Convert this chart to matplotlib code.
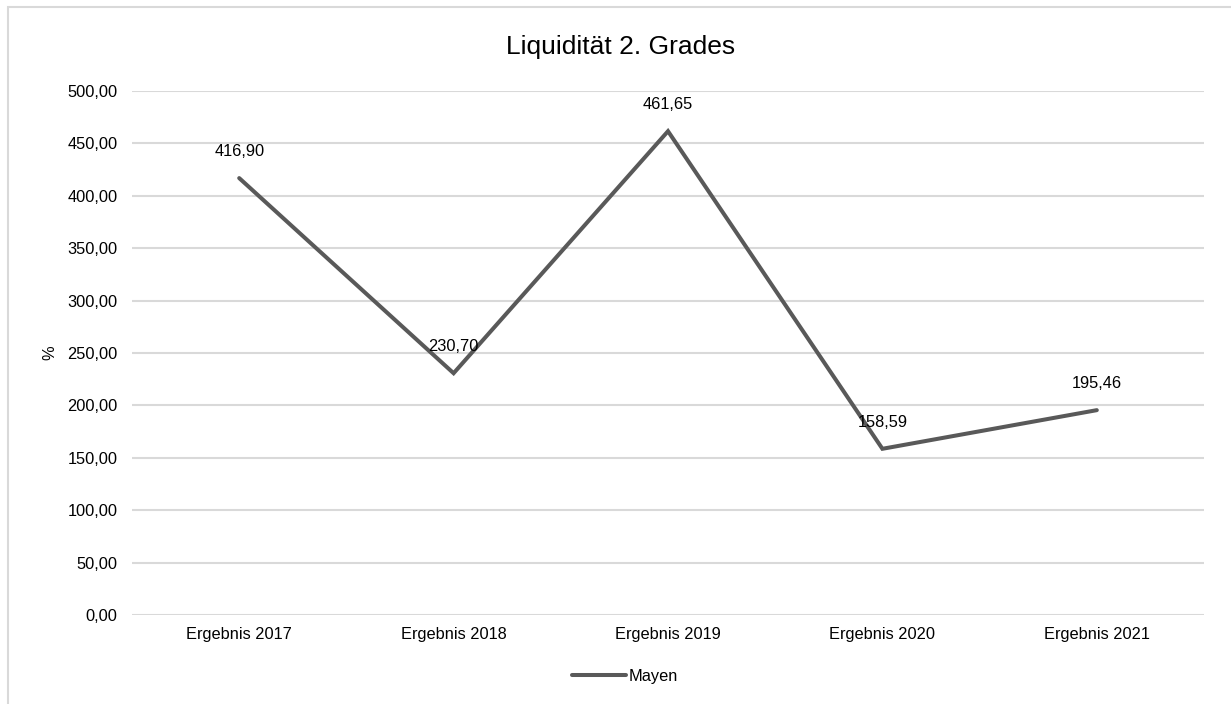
import matplotlib
matplotlib.use("Agg")
import matplotlib.pyplot as plt
from matplotlib.patches import Rectangle
from matplotlib.ticker import FuncFormatter

plt.rcParams['font.family'] = ['Liberation Sans', 'DejaVu Sans']

categories = ["Ergebnis 2017", "Ergebnis 2018", "Ergebnis 2019", "Ergebnis 2020", "Ergebnis 2021"]
values = [416.90, 230.70, 461.65, 158.59, 195.46]
series_name = "Mayen"
title = "Liquidität 2. Grades"
y_label = "%"

W, H = 1231, 704
fig = plt.figure(figsize=(W / 100, H / 100), dpi=100)
fig.patch.set_facecolor("white")

# chart-area border
fig.add_artist(Rectangle((8 / W, -0.1), 1.2, 1 - 7 / H + 0.1, transform=fig.transFigure,
                         fill=False, edgecolor="#d9d9d9", linewidth=1.5))

ax = fig.add_axes([132 / W, (H - 615) / H, (1204 - 132) / W, (615 - 91) / H])
x = list(range(len(categories)))
line, = ax.plot(x, values, color="#595959", linewidth=2.9, solid_capstyle="round",
                solid_joinstyle="miter", label=series_name, zorder=3)

for xi, v in zip(x, values):
    ax.annotate(f"{v:.2f}".replace(".", ","), (xi, v), xytext=(0, 19),
                textcoords="offset points", ha="center", va="center",
                fontsize=11.8, color="#000000", zorder=4)

ax.set_xlim(-0.5, len(categories) - 0.5)
ax.set_ylim(0, 500)
ax.set_yticks(range(0, 501, 50))
ax.yaxis.set_major_formatter(FuncFormatter(lambda v, p: f"{v:.2f}".replace(".", ",")))
ax.set_xticks(x)
ax.set_xticklabels(categories)
ax.tick_params(axis="both", length=0, labelsize=11.8, colors="#000000")
ax.tick_params(axis="y", pad=10.5)
ax.tick_params(axis="x", pad=9)
ax.grid(axis="y", color="#d9d9d9", linewidth=1.5)
ax.set_axisbelow(True)
for s in ax.spines.values():
    s.set_visible(False)

fig.text(50 / W, 1 - 353 / H, y_label, rotation=90, ha="center", va="center", fontsize=11.8)
fig.text(621 / W, 1 - 47 / H, title, ha="center", va="center", fontsize=19)

leg = fig.legend(handles=[line], loc="center", bbox_to_anchor=(625 / W, 1 - 676 / H),
                 frameon=False, fontsize=11.8, handlelength=3.3, handletextpad=0.15)

fig.savefig("out.png", dpi=100)
